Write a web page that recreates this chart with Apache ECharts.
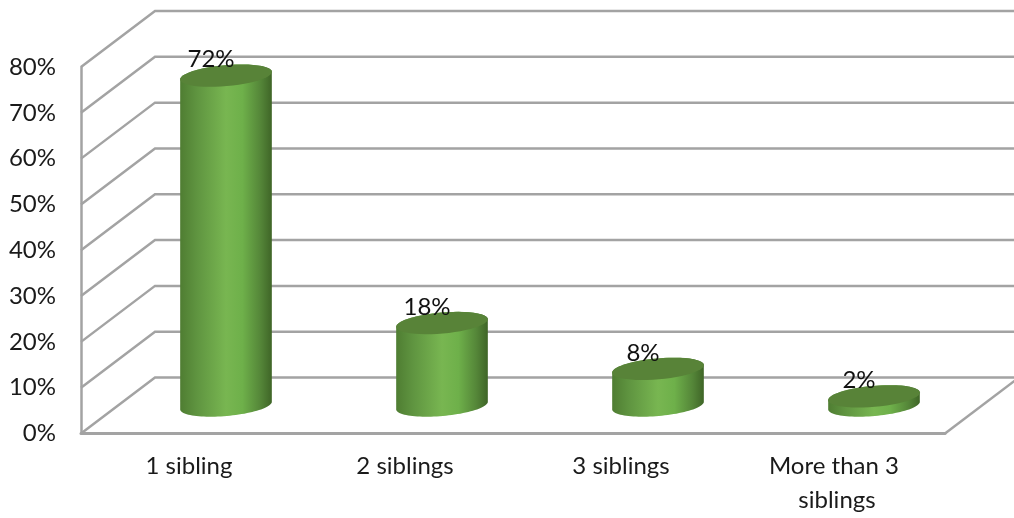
<!DOCTYPE html>
<html>
<head>
<meta charset="utf-8">
<style>html,body{margin:0;padding:0;background:#fff}#c{width:1014px;height:518px}</style>
<script src="https://cdn.jsdelivr.net/npm/echarts@6/dist/echarts.min.js"></script>
</head>
<body>
<div id="c"></div>
<script>
const categories = ['1 sibling', '2 siblings', '3 siblings', 'More than 3 siblings'];
const shares = [72, 18, 8, 2];
const shareLabels = ['72%', '18%', '8%', '2%'];
const gridTicks = [0, 10, 20, 30, 40, 50, 60, 70, 80];

const DEPTH_X = 74, DEPTH_Y = -56;
const RX = 46, RY = 10.5, TILT = -5 * Math.PI / 180;
const WALL = '#a3a3a3';
const FONT = 'Lato';

function ellipsePoint(cx, cy, t) {
  const x = RX * Math.cos(t), y = RY * Math.sin(t);
  return [cx + x * Math.cos(TILT) - y * Math.sin(TILT), cy + x * Math.sin(TILT) + y * Math.cos(TILT)];
}
function arc(cx, cy, from, to) {
  const pts = [];
  for (let i = 0; i <= 48; i++) pts.push(ellipsePoint(cx, cy, from + (to - from) * i / 48));
  return pts;
}

const chart = echarts.init(document.getElementById('c'), null, { renderer: 'canvas' });
chart.setOption({
  animation: false,
  backgroundColor: '#fff',
  grid: { left: 81, right: 69, top: 67, bottom: 84.5, outerBoundsMode: 'none' },
  xAxis: {
    type: 'category',
    data: categories,
    axisLine: { show: true, lineStyle: { color: WALL, width: 3 } },
    axisTick: { show: false },
    axisLabel: {
      color: '#1a1a1a', fontFamily: FONT, fontSize: 24, margin: 16,
      lineHeight: 34, width: 170, overflow: 'break', interval: 0
    }
  },
  yAxis: {
    type: 'value',
    min: 0, max: 80, interval: 10,
    axisLine: { show: true, lineStyle: { color: WALL, width: 2.5 } },
    axisTick: { show: false },
    splitLine: { show: false },
    axisLabel: { color: '#1a1a1a', fontFamily: FONT, fontSize: 24, margin: 25, padding: [3, 0, 0, 0], formatter: '{value}%' }
  },
  series: [
    {
      type: 'custom',
      name: 'walls',
      silent: true,
      clip: false,
      z: 1,
      data: gridTicks.map(v => [0, v]),
      encode: { x: 0, y: 1 },
      renderItem(params, api) {
        const y = api.coord([0, api.value(1)])[1];
        const x0 = params.coordSys.x;
        const x1 = x0 + params.coordSys.width;
        const style = { stroke: WALL, lineWidth: 2.5, fill: null };
        const children = [{
          type: 'polyline',
          shape: { points: [[x0, y], [x0 + DEPTH_X, y + DEPTH_Y], [x1 + DEPTH_X, y + DEPTH_Y]] },
          style
        }];
        if (api.value(1) === 0) {
          children.push({
            type: 'line',
            shape: { x1: x1, y1: y, x2: x1 + DEPTH_X, y2: y + DEPTH_Y },
            style
          });
        }
        return { type: 'group', children };
      }
    },
    {
      type: 'custom',
      name: 'Share',
      clip: false,
      z: 5,
      data: shares.map((v, i) => [i, v]),
      encode: { x: 0, y: 1 },
      renderItem(params, api) {
        const i = api.value(0);
        const top = api.coord([i, api.value(1)]);
        const base = api.coord([i, 0]);
        const cx = top[0] + DEPTH_X / 2;
        const topY = top[1] + DEPTH_Y / 2;
        const baseY = base[1] + DEPTH_Y / 2;
        const body = arc(cx, baseY, 0, Math.PI).concat(arc(cx, topY, Math.PI, 2 * Math.PI));
        return {
          type: 'group',
          children: [
            {
              type: 'polygon',
              shape: { points: body },
              style: {
                fill: new echarts.graphic.LinearGradient(0, 0, 1, 0, [
                  { offset: 0, color: '#4f7d32' },
                  { offset: 0.18, color: '#5f9440' },
                  { offset: 0.5, color: '#78b651' },
                  { offset: 0.68, color: '#6eb04a' },
                  { offset: 0.88, color: '#548538' },
                  { offset: 1, color: '#3f6527' }
                ])
              }
            },
            {
              type: 'polygon',
              shape: { points: arc(cx, topY, 0, 2 * Math.PI) },
              style: { fill: '#588338' }
            },
            {
              type: 'text',
              style: {
                x: top[0] + 22, y: topY - 16,
                text: shareLabels[i],
                fill: '#111', font: '24px ' + FONT,
                align: 'center', verticalAlign: 'middle'
              }
            }
          ]
        };
      }
    }
  ]
});
</script>
</body>
</html>
